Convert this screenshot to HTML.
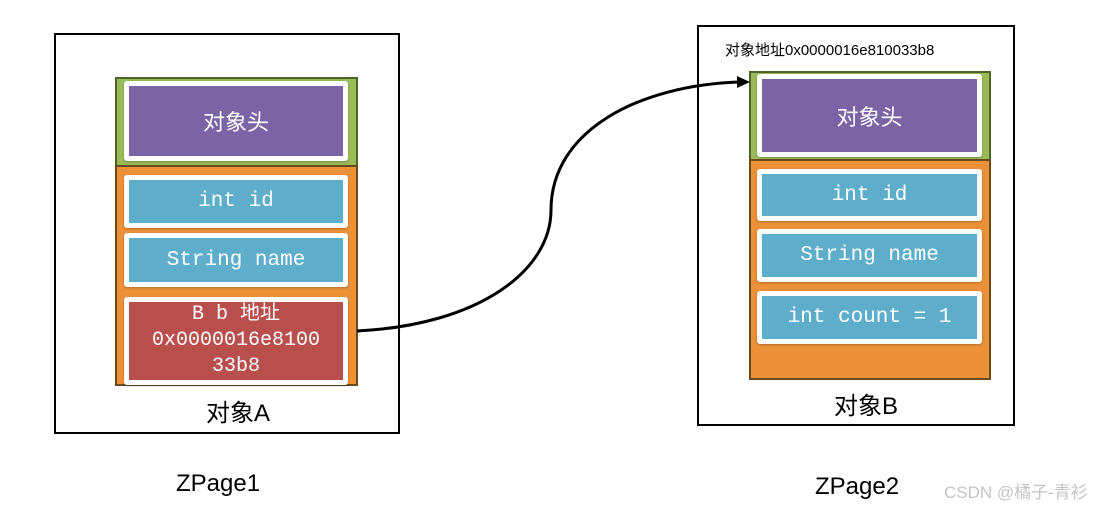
<!DOCTYPE html>
<html><head><meta charset="utf-8"><style>
body{margin:0;width:1111px;height:505px;background:#fff;position:relative;overflow:hidden;font-family:"Liberation Sans","Noto Sans CJK SC",sans-serif}
.a{position:absolute;box-sizing:border-box}
.frame{border:2px solid #000}
.green{background:#9bbb59;border:2px solid #4f6228}
.orange{background:#ec9138;border:2px solid #6b4a1e}
.cell{border:5px solid #fff;border-radius:3px;color:#fff;display:flex;align-items:center;justify-content:center;text-align:center;box-shadow:0 1px 2px rgba(0,0,0,.25)}
.p{background:#7b64a6;font-size:22px}
.b{background:#5eaecb;font-family:"Liberation Mono","DejaVu Sans Mono",monospace;font-size:21px}
.r{background:#b84f4d;font-family:"Liberation Mono","Noto Sans CJK SC",monospace;font-size:20px;line-height:26px}
.t{font-size:24px;color:#000}
</style></head><body>
<div class="a frame" style="left:54px;top:33px;width:346px;height:401px"></div>
<div class="a frame" style="left:697px;top:25px;width:318px;height:401px"></div>

<div class="a green" style="left:115px;top:77px;width:243px;height:90px"></div>
<div class="a orange" style="left:115px;top:165px;width:243px;height:221px"></div>
<div class="a cell p" style="left:124px;top:81px;width:224px;height:80px">对象头</div>
<div class="a cell b" style="left:124px;top:175px;width:224px;height:53px">int id</div>
<div class="a cell b" style="left:124px;top:233px;width:224px;height:54px">String name</div>
<div class="a cell r" style="left:124px;top:297px;width:224px;height:88px">B b 地址<br>0x0000016e8100<br>33b8</div>
<div class="a t" style="left:206px;top:393px">对象A</div>

<div class="a" style="left:725px;top:39px;font-size:15px">对象地址0x0000016e810033b8</div>
<div class="a green" style="left:749px;top:71px;width:242px;height:90px"></div>
<div class="a orange" style="left:749px;top:159px;width:242px;height:221px"></div>
<div class="a cell p" style="left:757px;top:74px;width:225px;height:83px">对象头</div>
<div class="a cell b" style="left:757px;top:169px;width:225px;height:52px">int id</div>
<div class="a cell b" style="left:757px;top:229px;width:225px;height:53px">String name</div>
<div class="a cell b" style="left:757px;top:291px;width:225px;height:53px">int count = 1</div>
<div class="a t" style="left:834px;top:386px">对象B</div>

<div class="a t" style="left:176px;top:470px">ZPage1</div>
<div class="a t" style="left:815px;top:473px">ZPage2</div>
<div class="a" style="left:944px;top:478px;font-size:17px;color:#c4c4c4">CSDN @橘子-青衫</div>

<svg class="a" style="left:0;top:0" width="1111" height="505">
<path d="M357,331 C480,325 551,270 551,210 C551,130 640,85 740,82" fill="none" stroke="#000" stroke-width="3"/>
<polygon points="750,82 737,76 737,88" fill="#000"/>
</svg>
</body></html>
